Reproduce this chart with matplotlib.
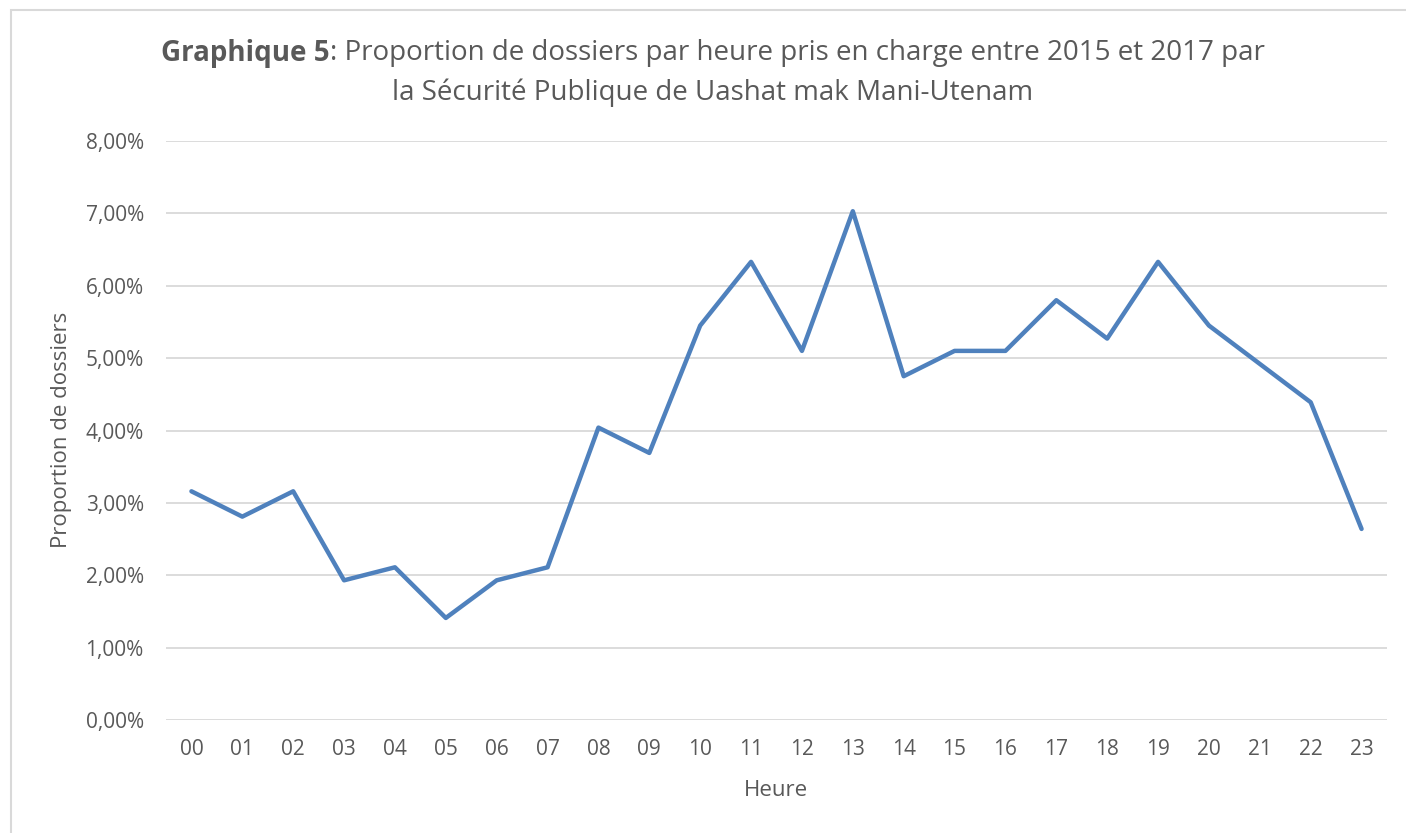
import matplotlib
matplotlib.use("Agg")
import matplotlib.pyplot as plt
from matplotlib.patches import Rectangle
from matplotlib.ticker import FuncFormatter

plt.rcParams['font.family'] = ['Open Sans', 'DejaVu Sans']

hours = ["00", "01", "02", "03", "04", "05", "06", "07", "08", "09", "10", "11",
         "12", "13", "14", "15", "16", "17", "18", "19", "20", "21", "22", "23"]
proportion = [3.16, 2.81, 3.16, 1.93, 2.11, 1.41, 1.93, 2.11, 4.04, 3.69, 5.45, 6.33,
              5.10, 7.03, 4.75, 5.10, 5.10, 5.80, 5.27, 6.33, 5.45, 4.92, 4.39, 2.64]
yticks = [0, 1, 2, 3, 4, 5, 6, 7, 8]

title_bold = "Graphique 5"
title_rest = ": Proportion de dossiers par heure pris en charge entre 2015 et 2017 par"
title_line2 = "la Sécurité Publique de Uashat mak Mani-Utenam"
xlabel = "Heure"
ylabel = "Proportion de dossiers"

TXT = "#595959"
GRID = "#d9d9d9"
LINE = "#4f81bd"

W, H = 1406, 833
fig = plt.figure(figsize=(W / 100, H / 100), dpi=100)
fig.patch.set_facecolor("white")

# chart border (right/bottom edges fall outside the picture)
fig.patches.append(Rectangle((11 / W, 1 - 843 / H), 1420 / W, 833 / H,
                             transform=fig.transFigure, fill=False,
                             edgecolor=GRID, linewidth=1.5))

ax = fig.add_axes([166 / W, 1 - 720 / H, (1387 - 166) / W, (720 - 141) / H])
x = list(range(len(hours)))
ax.plot(x, proportion, color=LINE, linewidth=3.2, solid_joinstyle="round",
        solid_capstyle="round", zorder=3)

ax.set_xlim(-0.5, len(hours) - 0.5)
ax.set_ylim(0, 8)
ax.set_yticks(yticks)
ax.yaxis.set_major_formatter(FuncFormatter(lambda v, p: f"{v:.2f}%".replace(".", ",")))
ax.set_xticks(x)
ax.set_xticklabels(hours)
ax.grid(axis="y", color=GRID, linewidth=1.3)
ax.set_axisbelow(True)
for s in ax.spines.values():
    s.set_visible(False)
ax.tick_params(length=0, labelsize=15, labelcolor=TXT)
ax.tick_params(axis="y", pad=16)
ax.tick_params(axis="x", pad=14)

fig.text(776 / W, 1 - 790 / H, xlabel, fontsize=16, color=TXT, ha="center", va="center")
fig.text(62 / W, 1 - 430 / H, ylabel, fontsize=16, color=TXT, ha="center", va="center",
         rotation=90)

# title with bold first part, centred
fig.canvas.draw()
r = fig.canvas.get_renderer()
cy1 = 1 - 53 / H
t1 = fig.text(0, cy1, title_bold, fontsize=20, fontweight="bold", color=TXT, va="center", ha="left")
t2 = fig.text(0, cy1, title_rest, fontsize=20, color=TXT, va="center", ha="left")
w1 = t1.get_window_extent(r).width
w2 = t2.get_window_extent(r).width
left = 713 - (w1 + w2) / 2
t1.set_x(left / W)
t2.set_x((left + w1) / W)
fig.text(713 / W, 1 - 93 / H, title_line2, fontsize=20, color=TXT, va="center", ha="center")

fig.savefig("out.png", dpi=100, facecolor="white")
